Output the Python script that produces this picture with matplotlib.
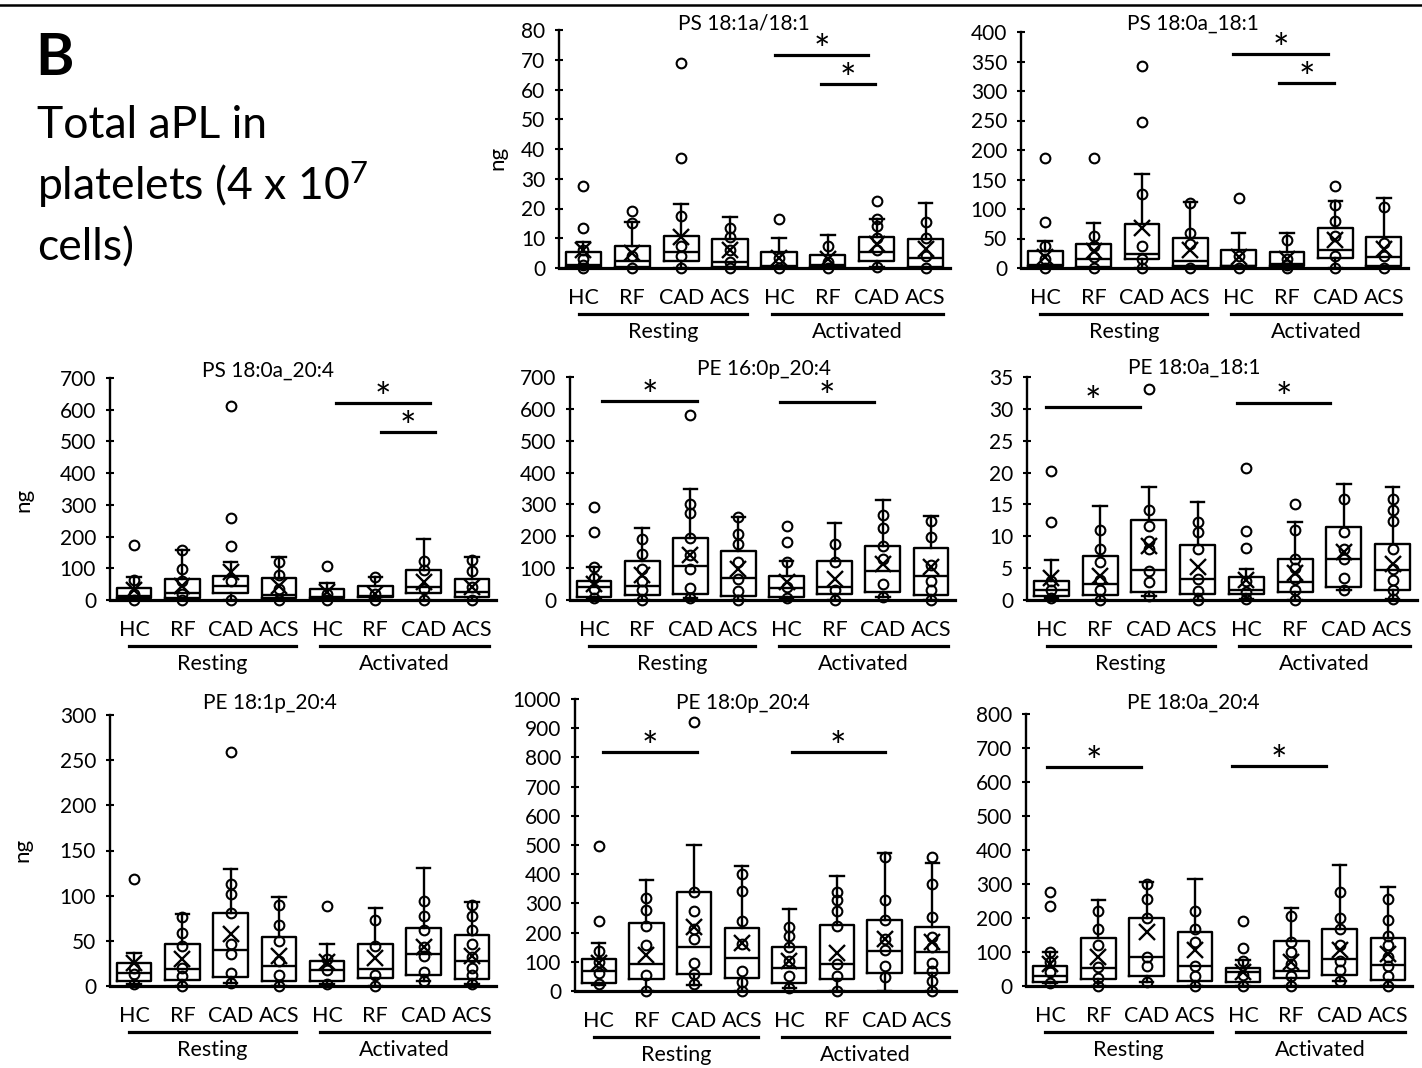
import matplotlib
matplotlib.use("Agg")
import matplotlib.pyplot as plt
import numpy as np
from matplotlib.transforms import offset_copy

plt.rcParams["font.family"] = ["Lato", "DejaVu Sans"]
plt.rcParams["mathtext.fontset"] = "custom"
plt.rcParams["mathtext.rm"] = "Lato"

# Data
groups = ["HC", "RF", "CAD", "ACS", "HC", "RF", "CAD", "ACS"]
conditions = ["Resting", "Activated"]
titles = ["PS 18:1a/18:1", "PS 18:0a_18:1", "PS 18:0a_20:4", "PE 16:0p_20:4",
          "PE 18:0a_18:1", "PE 18:1p_20:4", "PE 18:0p_20:4", "PE 18:0a_20:4"]
ymax = [80, 400, 700, 700, 35, 300, 1000, 800]
ystep = [10, 50, 100, 100, 5, 50, 100, 100]

lo = [[0, 0, 0, 0, 0, 0, 0.5, 0],
      [0, 0, 0, 0, 0, 0, 0, 0],
      [0, 0, 0, 0, 0, 0, 0, 0],
      [5, 0, 5, 0, 5, 0, 10, 0],
      [0.3, 0, 0.7, 0, 0.2, 0, 1.5, 0.2],
      [2, 0, 3, 0, 2, 0, 5, 2],
      [20, 0, 20, 0, 9, 0, 0, 0],
      [10, 0, 12, 0, 0, 0, 14, 0]]
q1 = [[0.5, 0.5, 2.5, 0.5, 0.5, 0.5, 2.5, 0.5],
      [3, 2, 16, 3, 3, 3, 17, 3],
      [5, 5, 22, 5, 5, 8, 22, 8],
      [10, 15, 20, 12, 10, 20, 25, 15],
      [0.6, 0.8, 1.3, 1.0, 1.0, 1.2, 2.0, 1.5],
      [5, 7, 10, 5, 5, 9, 12, 8],
      [26, 40, 58, 43, 28, 40, 63, 60],
      [11, 20, 29, 15, 12, 25, 31, 19]]
med = [[1, 2.5, 5.5, 2, 0.8, 1, 5.5, 3.5],
       [5, 15, 24, 12, 3, 7, 31, 19],
       [12, 21, 45, 16, 10, 12, 42, 26],
       [40, 45, 106, 68, 38, 42, 92, 74],
       [1.6, 2.5, 4.7, 3.3, 1.5, 2.9, 6.5, 4.7],
       [14, 19, 40, 22, 18, 19, 35, 28],
       [70, 91, 152, 114, 78, 92, 138, 132],
       [28, 54, 86, 59, 41, 44, 78, 63]]
q3 = [[5.3, 7.4, 10.8, 9.8, 5.5, 4.5, 10.3, 9.8],
      [29, 41, 74, 51, 30, 27, 67, 53],
      [38, 67, 75, 69, 36, 45, 96, 65],
      [61, 122, 195, 153, 75, 122, 169, 164],
      [3.0, 6.9, 12.6, 8.6, 3.6, 6.5, 11.4, 8.8],
      [26, 47, 81, 54, 28, 47, 64, 57],
      [108, 232, 338, 215, 150, 226, 243, 218],
      [59, 140, 199, 159, 53, 133, 169, 140]]
hi = [[8.8, 15.5, 21.5, 17, 10, 11, 16.5, 22],
      [46, 76, 159, 112, 60, 59, 114, 119],
      [72, 158, 121, 135, 54, 74, 191, 135],
      [105, 225, 347, 260, 122, 242, 314, 263],
      [6.2, 14.7, 17.8, 15.4, 4.9, 12.3, 18.2, 17.7],
      [37, 80, 130, 98, 46, 86, 131, 93],
      [166, 380, 500, 429, 281, 395, 474, 437],
      [100, 253, 307, 316, 76, 228, 356, 292]]
mean = [[6, 5, 10.5, 6, 3.5, 3, 8, 6.5],
        [19, 28, 68, 30, 19, 16, 48, 33],
        [30, 45, 88, 45, 24, 19, 58, 40],
        [50, 77, 141, 97, 55, 66, 113, 105],
        [3.4, 3.8, 8.5, 5.2, 3.2, 4.3, 7.5, 5.7],
        [25, 30, 58, 33, 27, 31, 43, 33],
        [95, 123, 220, 163, 103, 131, 177, 169],
        [65, 86, 159, 105, 40, 71, 105, 95]]

points = [
    [[27.5, 13.5, 6, 3, 1, 0], [19, 15, 4, 0], [69, 37, 17.5, 7.5, 4, 0], [13.5, 10.5, 6, 2, 0],
     [16.5, 3.5, 0], [7.5, 2, 0], [22.5, 16.5, 14, 10, 6, 0.5], [15.5, 10, 4, 0]],
    [[186, 78, 37, 15, 0], [186, 55, 38, 18, 0], [343, 248, 126, 37, 16, 0], [110, 60, 40, 0],
     [118, 20, 0], [47, 16, 5, 0], [139, 106, 79, 55, 20, 0], [103, 43, 20, 0]],
    [[174, 63, 20, 0], [158, 97, 60, 20, 0], [612, 260, 170, 59, 0], [119, 78, 35, 0],
     [106, 20, 0], [74, 20, 0], [122, 96, 35, 0], [126, 91, 40, 0]],
    [[291, 215, 105, 70, 35, 5], [192, 145, 97, 60, 30, 0], [580, 302, 274, 195, 140, 97, 37, 5],
     [260, 208, 176, 120, 65, 29, 0], [232, 181, 120, 40, 5], [176, 120, 30, 0],
     [268, 225, 170, 130, 50, 10], [249, 199, 110, 61, 30, 0]],
    [[20.3, 12.3, 3, 1.5, 0.3], [11.0, 8, 5.9, 3.2, 1.5, 0], [33.1, 14.1, 11.6, 9.3, 8, 4.6, 2.9, 0.7],
     [12.3, 10.6, 8, 3.3, 1.4, 0], [20.7, 10.9, 8.1, 3, 1.3, 0.2], [15.1, 11, 6.4, 5, 3.3, 1.5, 0],
     [15.8, 10.7, 8, 6.5, 3.4, 1.5], [15.9, 14.1, 12.4, 8, 4.8, 3.2, 1.5, 0.2]],
    [[118, 20, 13, 2], [76, 59, 44, 20, 11, 0], [259, 113, 102, 81, 47, 35, 14, 3],
     [90, 67, 50, 28, 12, 0], [89, 30, 18, 2], [73, 44, 12.5, 0],
     [94, 78, 62, 43, 33, 15.5, 5], [90, 77, 62, 46, 32, 20, 12, 2]],
    [[497, 241, 138, 100, 63, 23], [317, 277, 224, 158, 55, 0], [920, 338, 275, 211, 178, 97, 58, 23],
     [401, 342, 240, 160, 68, 32, 0], [220, 190, 150, 104, 51, 9], [338, 312, 275, 224, 92, 53, 0],
     [458, 312, 243, 177, 140, 87, 47], [460, 365, 252, 186, 150, 95, 68, 34, 0]],
    [[277, 235, 100, 70, 41, 10], [221, 169, 120, 55, 25, 0], [300, 257, 199, 86, 58, 12],
     [221, 169, 128, 59, 29, 0], [192, 112, 73, 33, 0], [205, 130, 100, 66, 30, 0],
     [277, 199, 169, 120, 74, 46, 14], [257, 194, 147, 120, 86, 59, 29, 0]],
]

# significance bars: (x start, x end, height)
sig_bars = [
    [(4.42, 6.32, 71.6), (5.36, 6.46, 62)],
    [(4.38, 6.35, 363), (5.34, 6.46, 313)],
    [(4.69, 6.63, 621), (5.62, 6.74, 531)],
    [(0.67, 2.64, 624), (4.37, 6.32, 620)],
    [(0.39, 2.31, 30.3), (4.31, 6.22, 30.9)],
    [],
    [(0.59, 2.57, 820), (4.55, 6.51, 820)],
    [(0.44, 2.39, 643), (4.27, 6.22, 646)],
]

# Layout in pixels
W, H = 1422, 1068
frames = [(559, 950, 30, 268), (1021, 1408, 32, 268), (110, 496, 378, 600), (570, 955, 377, 600),
          (1027, 1417, 377, 600), (110, 496, 715, 986), (575, 956, 699, 991), (1026, 1412, 714, 986)]
title_xy = [(744, 30), (1193, 30), (268, 377), (764, 375), (1194, 374), (270, 709), (743, 709), (1193, 709)]

fig = plt.figure(figsize=(W / 100, H / 100), dpi=100)

pos = np.arange(8) + 0.5
for k in range(8):
    x0, x1, yt, yb = frames[k]
    ax = fig.add_axes([x0 / W, 1 - yb / H, (x1 - x0) / W, (yb - yt) / H])

    stats = []
    for i in range(8):
        stats.append(dict(whislo=lo[k][i], q1=q1[k][i], med=med[k][i], q3=q3[k][i],
                          whishi=hi[k][i], mean=mean[k][i], fliers=[]))
    ax.bxp(stats, positions=pos, widths=0.72, capwidths=0.28, showmeans=True,
           manage_ticks=False,
           boxprops=dict(color="black", linewidth=1.7),
           whiskerprops=dict(color="black", linewidth=1.7),
           capprops=dict(color="black", linewidth=1.7),
           medianprops=dict(color="black", linewidth=1.7),
           meanprops=dict(marker="x", markeredgecolor="black", markersize=12, markeredgewidth=1.7, zorder=4))

    for i in range(8):
        ax.plot(np.full(len(points[k][i]), pos[i]), points[k][i], "o", mfc="none", mec="black",
                ms=7, mew=1.5, clip_on=False, zorder=3)

    ax.set_xlim(0, 8)
    ax.set_ylim(0, ymax[k])
    ax.set_yticks(np.arange(0, ymax[k] + ystep[k] / 2, ystep[k]))
    ax.tick_params(axis="y", direction="inout", length=6, width=1.5, labelsize=15, pad=7)
    ax.set_xticks(pos, groups)
    ax.tick_params(axis="x", length=0, labelsize=15.5, pad=14.5)
    for s in ["top", "right"]:
        ax.spines[s].set_visible(False)
    ax.spines["left"].set_linewidth(1.7)
    ax.spines["bottom"].set_linewidth(2.3)

    # underlines and condition labels
    tr = ax.get_xaxis_transform()
    line_tr = offset_copy(tr, fig=fig, y=-46, units="dots")
    lab_tr = offset_copy(tr, fig=fig, y=-70, units="dots")
    for (a, b), cond in zip([(0.4, 3.85), (4.35, 7.85)], conditions):
        ax.plot([a, b], [0, 0], color="black", lw=2.3, transform=line_tr, clip_on=False)
        ax.text((a + b) / 2, 0, cond, transform=lab_tr, ha="center", va="baseline", fontsize=15.5)

    # significance
    for a, b, y in sig_bars[k]:
        ax.plot([a, b], [y, y], color="black", lw=2.3, clip_on=False)
        ax.text((a + b) / 2, y, "*", ha="center", va="baseline", fontsize=28,
                transform=offset_copy(ax.transData, fig=fig, y=-8, units="dots"))

    tx, ty = title_xy[k]
    fig.text(tx / W, 1 - ty / H, titles[k], ha="center", va="baseline", fontsize=15)

# y labels
for px, py in [(497, 158), (23, 500), (22, 850)]:
    fig.text(px / W, 1 - py / H, "ng", rotation=90, ha="center", va="center", fontsize=16)

# header
fig.add_artist(plt.Line2D([0, 1], [1 - 5 / H, 1 - 5 / H], color="black", lw=1.8))
fig.text(35 / W, 1 - 75 / H, "B", fontsize=42, fontweight="bold", va="baseline")
fig.text(37 / W, 1 - 138 / H, "Total aPL in", fontsize=32, va="baseline")
fig.text(37 / W, 1 - 200 / H, "platelets (4 x 10$\\mathregular{^7}$", fontsize=32, va="baseline")
fig.text(37 / W, 1 - 260 / H, "cells)", fontsize=32, va="baseline")

fig.savefig("out.png", dpi=100)
